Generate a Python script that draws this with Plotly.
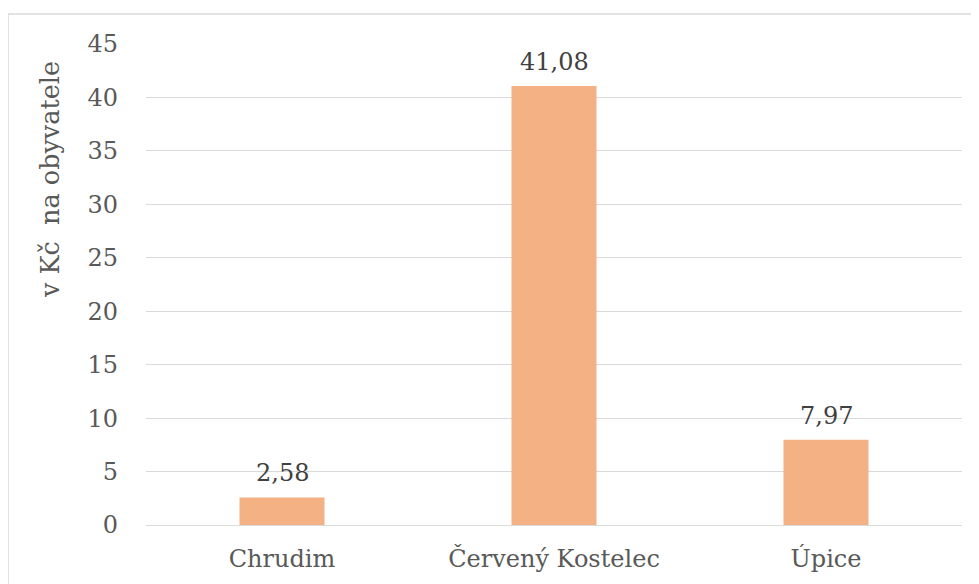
import plotly.graph_objects as go

categories = ["Chrudim", "Červený Kostelec", "Úpice"]
values = [2.58, 41.08, 7.97]
value_labels = ["2,58", "41,08", "7,97"]
y_ticks = [0, 5, 10, 15, 20, 25, 30, 35, 40, 45]
y_title = "v Kč  na obyvatele"

OFF = 8  # page body margin
W, H = 979 - OFF, 584 - OFF
# plot area in screen pixels
PX0, PX1, PY0, PY1 = 146, 962, 44, 525
L, T = PX0 - OFF, PY0 - OFF
R = W - L - (PX1 - PX0)
B = H - T - (PY1 - PY0)
PW, PH = PX1 - PX0, PY1 - PY0

def px_x(x):
    return (x - PX0) / PW

def px_y(y):
    return (PY1 - y) / PH

FONT = "DejaVu Serif"
FS = 24

fig = go.Figure()
fig.add_trace(go.Bar(
    x=categories, y=values,
    marker=dict(color="#F4B183", line=dict(width=0)),
    hoverinfo="skip",
))

for c, v, t in zip(categories, values, value_labels):
    fig.add_annotation(x=c, y=v, xref="x", yref="y", text=t, showarrow=False,
                       yanchor="bottom", yshift=8,
                       font=dict(family=FONT, size=FS, color="#404040"))

fig.add_annotation(x=px_x(50), y=px_y(180), xref="paper", yref="paper",
                   text=y_title, showarrow=False, textangle=-90,
                   xanchor="center", yanchor="middle",
                   font=dict(family=FONT, size=25.5, color="#595959"))

fig.add_shape(type="rect", xref="paper", yref="paper",
              x0=px_x(8), x1=px_x(1000), y0=px_y(600), y1=px_y(14),
              line=dict(color="#D9D9D9", width=1.5), fillcolor="rgba(0,0,0,0)",
              layer="below")

fig.update_layout(
    width=W, height=H,
    margin=dict(l=L, r=R, t=T, b=B, pad=0),
    paper_bgcolor="white", plot_bgcolor="white",
    bargap=0.6875,
    showlegend=False,
    font=dict(family=FONT, size=FS, color="#595959"),
    xaxis=dict(showgrid=False, showline=False, zeroline=False, ticks="",
               tickfont=dict(family=FONT, size=FS, color="#595959"),
               ticklabelstandoff=17),
    yaxis=dict(range=[0, 45], tickvals=y_ticks, showgrid=True,
               gridcolor="#D9D9D9", gridwidth=1.3, zeroline=True,
               zerolinecolor="#D9D9D9", zerolinewidth=1.3, showline=False, ticks="",
               tickfont=dict(family=FONT, size=FS, color="#595959"),
               ticklabelstandoff=27),
)

fig.write_html("out.html")
